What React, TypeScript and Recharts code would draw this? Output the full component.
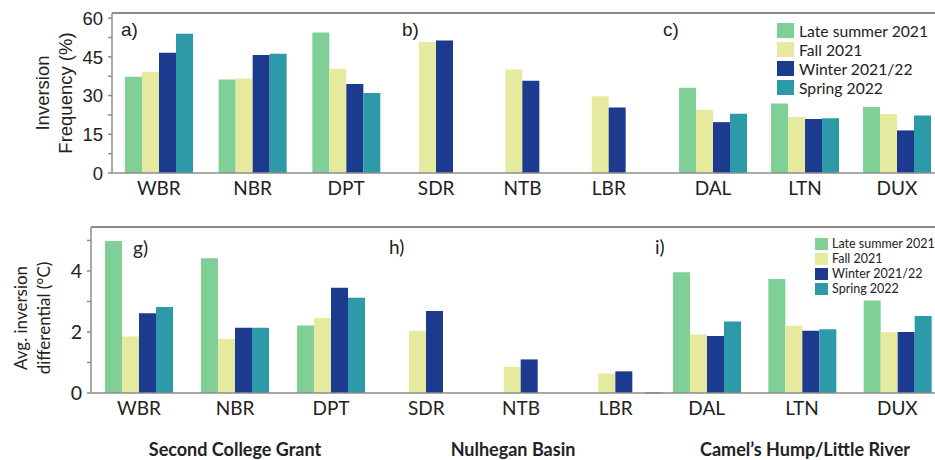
import React from "react";
import { BarChart, Bar, XAxis, YAxis, Legend, Label } from "recharts";

const seasons = ["Late summer 2021", "Fall 2021", "Winter 2021/22", "Spring 2022"];
const seasonKeys = ["lateSummer", "fall", "winter", "spring"];
const seasonColors = ["#7fcf96", "#e6ea9e", "#1c3a8e", "#2d9aaa"];

const sites = ["WBR", "NBR", "DPT", "SDR", "NTB", "LBR", "DAL", "LTN", "DUX"];
const regions = ["Second College Grant", "Nulhegan Basin", "Camel’s Hump/Little River"];

// inversion frequency (%)
const freqLateSummer = [37.3, 36.2, 54.4, null, null, null, 33.0, 26.9, 25.6];
const freqFall = [39.2, 36.6, 40.4, 50.8, 40.1, 29.7, 24.5, 21.7, 22.9];
const freqWinter = [46.6, 45.7, 34.5, 51.3, 35.7, 25.4, 19.7, 20.9, 16.5];
const freqSpring = [54.0, 46.2, 31.0, null, null, null, 23.0, 21.2, 22.3];

// average inversion differential (°C)
const diffLateSummer = [4.98, 4.42, 2.21, null, null, null, 3.96, 3.74, 3.03];
const diffFall = [1.85, 1.77, 2.46, 2.04, 0.86, 0.64, 1.92, 2.2, 1.99];
const diffWinter = [2.61, 2.14, 3.45, 2.69, 1.1, 0.71, 1.87, 2.04, 2.0];
const diffSpring = [2.82, 2.14, 3.12, null, null, null, 2.34, 2.09, 2.52];

const freqTicks = [0, 7.5, 15, 22.5, 30, 37.5, 45, 52.5, 60];
const diffTicks = [0, 1, 2, 3, 4, 5];

const AXIS = "#8c8c8c";
const AXIS_W = 1.5;
const TEXT = "#222";
const SANS = "'Liberation Sans', Arial, sans-serif";
const CAL = "Lato, 'Open Sans', sans-serif";

const buildRows = (lo: number, series: (number | null)[][]) =>
  sites.slice(lo, lo + 3).map((site, i) => {
    const row: { [k: string]: any } = { site };
    seasonKeys.forEach((k, s) => (row[k] = series[s][lo + i]));
    return row;
  });

const freqSeries = [freqLateSummer, freqFall, freqWinter, freqSpring];
const diffSeries = [diffLateSummer, diffFall, diffWinter, diffSpring];

const makeLegend = (big: boolean) => () => (
  <div style={{ fontFamily: CAL, fontSize: big ? 15.7 : 12.5, color: TEXT }}>
    {seasons.map((s, i) => (
      <div key={s} style={{ display: "flex", alignItems: "center", height: big ? 19 : 15, whiteSpace: "nowrap" }}>
        <span
          style={{
            display: "inline-block",
            width: big ? 17 : 13,
            height: big ? 15 : 12,
            background: seasonColors[i],
            marginRight: big ? 5 : 4,
          }}
        />
        {s}
      </div>
    ))}
  </div>
);

interface PanelProps {
  data: any[];
  left: number;
  top: number;
  width: number;
  height: number;
  axisHeight: number;
  yWidth: number;
  domain: [number, number];
  ticks: number[];
  every: number;
  tickFont: string;
  tickSize: number;
  padLeft?: number;
  title?: string[];
  titleX?: number[];
  titleDy?: number;
  titleFont?: string;
  titleSize?: number;
  legend?: { big: boolean; left: number; top: number };
}

const Panel: React.FC<PanelProps> = (p) => {
  const axisLine = { stroke: AXIS, strokeWidth: AXIS_W };

  const yTick = (props: any) => {
    const { x, y, payload } = props;
    if (payload.value % p.every !== 0) return <g />;
    return (
      <text x={x} y={y} dy="0.36em" textAnchor="end" fontFamily={p.tickFont} fontSize={p.tickSize} fill={TEXT}>
        {payload.value}
      </text>
    );
  };

  const yTitle = (props: any) => {
    const vb = props.viewBox;
    const cy = vb.y + vb.height / 2 + (p.titleDy || 0);
    return (
      <g>
        {(p.title || []).map((line, i) => (
          <text
            key={line}
            x={p.titleX![i]}
            y={cy}
            transform={`rotate(-90 ${p.titleX![i]} ${cy})`}
            textAnchor="middle"
            dominantBaseline="central"
            fontFamily={p.titleFont}
            fontSize={p.titleSize}
            fill={TEXT}
          >
            {line}
          </text>
        ))}
      </g>
    );
  };

  return (
    <div style={{ position: "absolute", left: p.left, top: p.top }}>
      <BarChart
        width={p.width}
        height={p.height}
        data={p.data}
        margin={{ top: 13, right: 0, bottom: 0, left: 0 }}
        barSize={17}
        barGap={0}
      >
        <XAxis
          dataKey="site"
          height={p.axisHeight}
          tickLine={false}
          tickMargin={3}
          axisLine={axisLine}
          padding={{ left: p.padLeft || 0, right: 0 }}
          tick={{ fontFamily: CAL, fontSize: 19, fill: TEXT }}
          interval={0}
        />
        {p.yWidth > 0 ? (
          <YAxis
            width={p.yWidth}
            domain={p.domain}
            ticks={p.ticks}
            allowDataOverflow
            axisLine={axisLine}
            tickLine={axisLine}
            tickSize={4}
            tickMargin={5}
            tick={yTick}
            interval={0}
          >
            <Label content={yTitle} />
          </YAxis>
        ) : (
          <YAxis width={0} domain={p.domain} allowDataOverflow tick={false} tickLine={false} axisLine={axisLine} />
        )}
        {seasonKeys.map((k, i) => (
          <Bar key={k} dataKey={k} name={seasons[i]} fill={seasonColors[i]} isAnimationActive={false} />
        ))}
        {p.legend && (
          <Legend
            layout="vertical"
            align="center"
            verticalAlign="middle"
            content={makeLegend(p.legend.big)}
            wrapperStyle={{ left: p.legend.left, top: p.legend.top, width: "auto", height: "auto" }}
          />
        )}
      </BarChart>
    </div>
  );
};

const tag = (text: string, left: number, top: number, font: string): React.ReactNode => (
  <div key={text} style={{ position: "absolute", left, top, fontFamily: font, fontSize: 19, lineHeight: "19px", color: TEXT }}>
    {text}
  </div>
);

// frame line across the top of a row of panels
const frame = (left: number, top: number): React.ReactNode => (
  <div style={{ position: "absolute", left, top: top - 1, width: 935 - left, height: AXIS_W, background: AXIS }} />
);

const App: React.FC = () => {
  const topRow = { top: 0, height: 200, axisHeight: 27, domain: [0, 62] as [number, number], ticks: freqTicks, every: 15, tickFont: SANS, tickSize: 18.5 };
  const bottomRow = { top: 214, height: 246, axisHeight: 67, domain: [0, 5.44] as [number, number], ticks: diffTicks, every: 2, tickFont: CAL, tickSize: 19.5 };

  return (
    <div style={{ position: "absolute", left: 0, top: 0, width: 935, height: 460, overflow: "hidden", background: "#fff" }}>
      <Panel
        {...topRow}
        data={buildRows(0, freqSeries)}
        left={0}
        width={393}
        yWidth={112}
        title={["Inversion", "Frequency (%)"]}
        titleX={[42, 65]}
        titleFont={SANS}
        titleSize={18.5}
      />
      <Panel {...topRow} data={buildRows(3, freqSeries)} left={393} width={259} yWidth={0} />
      <Panel
        {...topRow}
        data={buildRows(6, freqSeries)}
        left={652}
        width={291}
        yWidth={0}
        padLeft={15}
        legend={{ big: true, left: 125, top: 21 }}
      />

      <Panel
        {...bottomRow}
        data={buildRows(0, diffSeries)}
        left={0}
        width={379}
        yWidth={91}
        title={["Avg. inversion", "differential (°C)"]}
        titleX={[20, 43]}
        titleDy={8}
        titleFont={CAL}
        titleSize={17}
      />
      <Panel {...bottomRow} data={buildRows(3, diffSeries)} left={379} width={284} yWidth={0} />
      <Panel
        {...bottomRow}
        data={buildRows(6, diffSeries)}
        left={645}
        width={300}
        yWidth={0}
        padLeft={14}
        legend={{ big: false, left: 170, top: 22 }}
      />

      {frame(112, 13)}
      {frame(91, 227)}

      {tag("a)", 121, 20, SANS)}
      {tag("b)", 402, 20, SANS)}
      {tag("c)", 663, 20, SANS)}
      {tag("g)", 133, 238, CAL)}
      {tag("h)", 389, 237, CAL)}
      {tag("i)", 655, 237, CAL)}

      {regions.map((r, i) => (
        <div
          key={r}
          style={{
            position: "absolute",
            left: [235, 513, 805][i],
            top: 440,
            transform: "translateX(-50%)",
            whiteSpace: "nowrap",
            fontFamily: CAL,
            fontWeight: 700,
            fontSize: 18,
            lineHeight: "18px",
            color: TEXT,
          }}
        >
          {r}
        </div>
      ))}
    </div>
  );
};

export default App;
